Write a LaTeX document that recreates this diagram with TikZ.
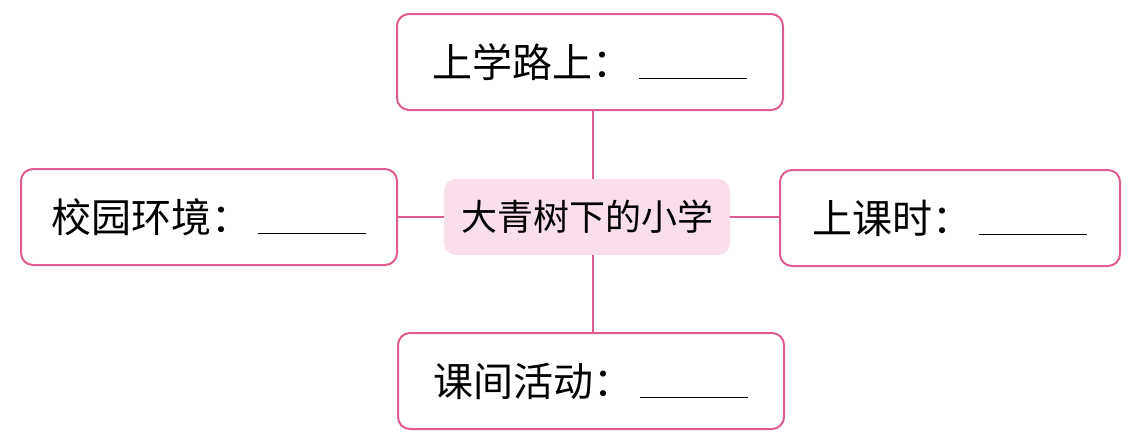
\documentclass[tikz,border=0pt]{standalone}
\usepackage{fontspec}
\newfontfamily\cjk{Noto Sans CJK SC}
\usepackage{xcolor}
\definecolor{mmpink}{RGB}{222,92,146}
\definecolor{hubpink}{RGB}{249,222,236}
\usetikzlibrary{positioning}

\newcommand{\blank}{\rule[-1pt]{54pt}{0.7pt}}

\begin{document}
\begin{tikzpicture}[x=0.5pt,y=-0.5pt,
  topic/.style={draw=mmpink,line width=1pt,fill=white,rounded corners=6pt,minimum height=48pt,font=\cjk\fontsize{20pt}{23pt}\selectfont,inner sep=0pt},
  hub/.style={fill=hubpink,rounded corners=6pt,minimum width=143pt,minimum height=38pt,font=\cjk\fontsize{18pt}{21pt}\selectfont,inner sep=0pt},
  link/.style={draw=mmpink,line width=1pt}
]
  \useasboundingbox (0,0) rectangle (1138,439);

  % centre
  \node[hub] (c) at (587,217) {大青树下的小学};

  % branches
  \node[topic,minimum width=193pt] (t1) at (590,62) {上学路上：\,\blank};
  \node[topic,minimum width=188pt] (t2) at (209,217) {校园环境：\,\blank};
  \node[topic,minimum width=170pt] (t3) at (950,218) {上课时：\,\blank};
  \node[topic,minimum width=193pt] (t4) at (591,381) {课间活动：\,\blank};

  % connectors
  \draw[link] ([xshift=3pt]c.north |- t1.south) -- ([xshift=3pt]c.north);
  \draw[link] ([xshift=3pt]c.south) -- ([xshift=3pt]c.south |- t4.north);
  \draw[link] (t2.east) -- (c.west);
  \draw[link] (c.east) -- (c.east -| t3.west);
\end{tikzpicture}
\end{document}
